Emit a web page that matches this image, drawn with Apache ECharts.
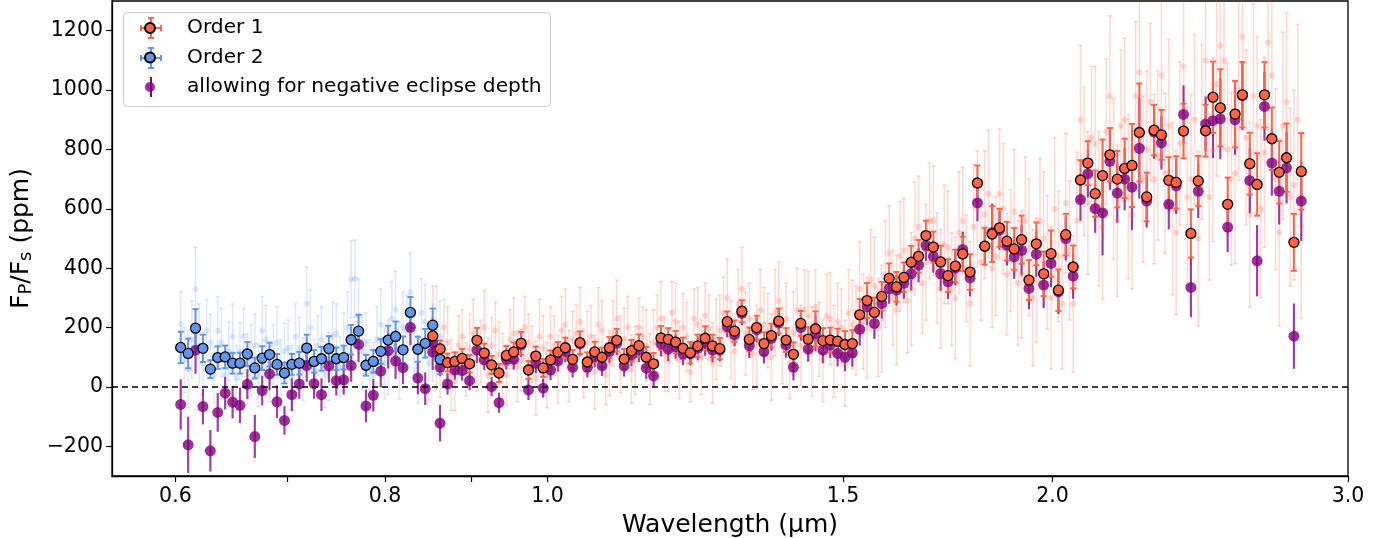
<!DOCTYPE html>
<html>
<head>
<meta charset="utf-8">
<script src="https://cdn.jsdelivr.net/npm/echarts@6/dist/echarts.min.js"></script>
<style>
html, body { margin: 0; padding: 0; background: #fff; }
#main { width: 1392px; height: 538px; }
</style>
</head>
<body>
<div id="main"></div>
<script>
// binned spectrum, order 1 (um, ppm)
var orderOneWave = [
  0.8542,0.8629,0.8717,0.8805,0.8894,0.8985,0.9076,0.9168,0.9261,0.9355,
  0.9450,0.9546,0.9643,0.9741,0.9840,0.9940,1.0041,1.0143,1.0246,1.0350,
  1.0455,1.0561,1.0668,1.0776,1.0886,1.0996,1.1108,1.1221,1.1335,1.1450,
  1.1566,1.1684,1.1802,1.1922,1.2043,1.2166,1.2289,1.2414,1.2540,1.2667,
  1.2796,1.2926,1.3057,1.3190,1.3324,1.3459,1.3596,1.3734,1.3873,1.4014,
  1.4156,1.4300,1.4445,1.4592,1.4740,1.4890,1.5041,1.5194,1.5348,1.5504,
  1.5661,1.5820,1.5981,1.6143,1.6307,1.6473,1.6640,1.6809,1.6980,1.7152,
  1.7325,1.7501,1.7679,1.7858,1.8040,1.8223,1.8408,1.8595,1.8784,1.8974,
  1.9167,1.9362,1.9558,1.9757,1.9958,2.0160,2.0365,2.0572,2.0781,2.0992,
  2.1204,2.1420,2.1637,2.1857,2.2079,2.2303,2.2529,2.2758,2.2989,2.3223,
  2.3459,2.3697,2.3938,2.4181,2.4426,2.4674,2.4925,2.5178,2.5433,2.5692,
  2.5952,2.6216,2.6482,2.6751,2.7023,2.7297,2.7574,2.7854,2.8137
];
var orderOneDepth = [
  172,128,82,86,96,78,157,114,74,47,
  106,118,147,57,104,64,91,117,132,93,
  149,84,118,100,132,157,94,122,139,100,
  78,165,160,151,130,115,138,164,138,129,
  220,188,255,160,200,146,173,222,158,110,
  214,161,196,156,158,154,143,146,243,291,
  251,305,366,337,369,420,440,510,471,421,
  375,407,448,387,687,474,515,536,491,465,
  496,360,482,381,449,326,513,404,697,754,
  651,712,782,700,736,746,857,640,865,849,
  696,689,862,517,694,863,976,940,615,919,
  984,752,682,984,836,723,772,487,726
];
var orderOneErr = [
  35,28,30,30,32,30,42,32,30,30,
  32,32,38,30,32,30,32,34,34,32,
  38,32,34,32,36,38,34,36,38,34,
  36,40,38,38,36,36,38,40,38,36,
  34,36,37,40,40,38,40,42,40,40,
  42,40,59,42,42,42,45,45,53,59,
  50,48,50,50,50,55,55,50,52,55,
  55,55,58,60,59,62,94,64,65,70,
  81,67,72,75,78,70,70,72,67,74,
  78,121,90,95,100,140,165,82,85,84,
  78,88,92,81,84,87,120,130,90,112,
  110,104,105,110,105,105,115,96,129
];
// order 1 refit allowing negative eclipse depth
var orderOneNeg = [
  150,66,10,57,55,21,124,91,1,-53,
  93,93,141,-10,80,-4,57,88,119,66,
  145,66,102,71,119,147,71,108,124,63,
  37,145,127,135,111,111,130,147,124,124,
  203,175,248,139,192,119,164,215,141,66,
  200,127,180,124,141,113,100,115,194,270,
  214,281,332,326,349,382,410,477,440,382,
  354,400,463,367,620,474,520,528,477,438,
  460,332,447,343,416,320,500,373,631,718,
  601,586,760,653,700,673,804,626,858,822,
  615,677,918,335,659,886,897,903,538,900,
  981,695,425,945,754,659,738,171,626
];
var orderOneNegErr = [
  38,30,36,32,34,32,44,34,32,34,
  34,34,40,34,34,32,34,36,36,34,
  40,34,36,34,38,40,36,38,40,36,
  38,42,40,40,38,38,40,42,40,38,
  36,38,40,42,42,40,42,44,42,44,
  44,42,60,44,44,44,47,47,55,62,
  52,50,52,52,52,57,58,52,55,58,
  58,58,60,62,62,65,98,66,68,74,
  84,70,76,78,80,74,74,76,72,80,
  82,143,96,100,105,145,170,88,90,90,
  84,94,98,100,90,92,126,136,84,118,
  116,110,120,116,110,112,120,110,135
];

// binned spectrum, order 2
var orderTwoWave = [
  0.6044,0.6106,0.6168,0.6231,0.6295,0.6359,0.6424,0.6490,0.6556,0.6623,
  0.6691,0.6759,0.6828,0.6898,0.6969,0.7040,0.7112,0.7185,0.7258,0.7332,
  0.7407,0.7483,0.7559,0.7637,0.7715,0.7794,0.7873,0.7954,0.8035,0.8117,
  0.8200,0.8284,0.8369,0.8454,0.8541,0.8628
];
var orderTwoDepth = [
  133,113,198,130,60,99,101,80,80,111,
  64,97,109,76,47,76,80,131,86,95,
  129,95,99,159,188,73,86,120,158,170,
  125,251,127,147,208,93
];
var orderTwoErr = [
  53,50,64,46,30,38,38,35,35,40,
  35,40,40,35,35,35,38,45,38,40,
  42,38,40,50,55,35,38,42,48,50,
  45,52,42,48,56,50
];
var orderTwoNeg = [
  -59,-195,124,-66,-215,-86,-21,-51,-62,9,
  -167,-12,44,-50,-113,-26,10,72,11,-26,
  70,21,24,72,143,-64,-28,53,122,87,
  65,201,30,-6,117,-122
];
var orderTwoNegErr = [
  85,95,80,60,70,65,55,55,60,50,
  73,50,55,55,48,55,50,55,50,55,
  55,50,50,55,60,55,55,55,60,60,
  55,60,55,55,60,62
];

// unbinned points drawn faintly behind
var faintOneMidWave = [
  0.8585,0.8673,0.8761,0.8850,0.8939,0.9030,0.9122,0.9214,0.9308,0.9402,
  0.9498,0.9594,0.9692,0.9790,0.9890,0.9990,1.0092,1.0194,1.0298,1.0402,
  1.0508,1.0614,1.0722,1.0831,1.0941,1.1052,1.1164,1.1278,1.1392,1.1508,
  1.1625,1.1743,1.1862,1.1982,1.2104,1.2228,1.2351,1.2477,1.2603,1.2731,
  1.2861,1.2991,1.3123,1.3257,1.3391,1.3527,1.3665,1.3803,1.3943,1.4085,
  1.4228,1.4372,1.4518,1.4666,1.4815,1.4965,1.5117,1.5271,1.5426,1.5582,
  1.5740,1.5900,1.6062,1.6225,1.6390,1.6556,1.6724,1.6894,1.7066,1.7238,
  1.7413,1.7590,1.7768,1.7948,1.8131,1.8315,1.8501,1.8689,1.8879,1.9070,
  1.9264,1.9460,1.9657,1.9857,2.0059,2.0262,2.0468,2.0676,2.0886,2.1098,
  2.1311,2.1528,2.1747,2.1968,2.2191,2.2416,2.2643,2.2873,2.3105,2.3341,
  2.3578,2.3817,2.4059,2.4303,2.4550,2.4799,2.5051,2.5305,2.5562,2.5822,
  2.6083,2.6349,2.6616,2.6886,2.7160,2.7435,2.7714,2.7995
];
var faintOneCenter = [
  230,60,150,20,170,130,90,200,140,110,
  40,180,90,150,30,130,170,60,210,160,
  220,150,50,190,80,230,160,60,200,140,
  150,230,90,220,200,50,210,240,80,190,
  300,120,330,230,140,210,100,290,230,180,
  140,240,270,90,230,220,80,210,330,200,
  340,230,450,260,460,330,540,420,560,330,
  470,300,560,280,600,580,400,650,380,590,
  380,470,360,500,300,440,620,280,900,620,
  820,540,980,560,900,580,1060,800,700,1050,
  880,520,1080,700,500,1100,800,1150,800,720,
  1180,580,880,790,1050,520,960,680,540
];
var faintOneMid = [
  100,200,40,140,60,180,120,40,190,70,
  160,70,200,110,170,40,140,190,70,180,
  80,170,210,40,180,110,200,90,170,60,
  200,110,250,90,170,230,100,200,160,250,
  160,280,180,110,260,190,250,140,80,260,
  260,120,160,240,120,200,250,190,220,360,
  200,380,300,440,290,500,350,560,400,480,
  330,520,400,540,420,650,440,600,460,350,
  560,300,560,420,600,280,460,560,760,840,
  600,860,700,880,640,980,700,960,780,720,
  600,820,640,900,860,640,1020,1100,700,1000,
  840,980,600,1160,700,880,640,900
];
var faintOneErr = [
  110,95,120,100,90,115,105,125,95,110,
  100,120,105,95,125,110,100,115,120,95,
  115,105,125,100,110,130,105,115,100,120,
  110,125,105,130,115,100,125,110,135,120,
  130,115,140,120,135,125,145,130,120,140,
  135,150,125,140,155,130,145,150,160,170,
  165,180,160,185,175,190,170,195,185,200,
  190,205,180,210,195,215,200,220,205,210,
  215,230,210,225,240,220,235,230,250,240,
  260,245,270,255,275,250,280,265,285,270,
  290,275,300,285,295,280,310,300,290,305,
  295,310,300,320,305,315,300,320,310
];
var faintTwoMidWave = [
  0.6075,0.6137,0.6199,0.6263,0.6327,0.6391,0.6457,0.6523,0.6589,0.6657,
  0.6725,0.6793,0.6863,0.6933,0.7004,0.7076,0.7148,0.7221,0.7295,0.7369,
  0.7445,0.7521,0.7598,0.7676,0.7754,0.7834,0.7913,0.7994,0.8076,0.8158,
  0.8242,0.8326,0.8411,0.8497,0.8584
];
var faintTwoCenter = [
  212,60,330,80,150,189,40,170,120,60,
  140,190,50,150,120,30,130,280,60,160,
  70,180,130,363,240,150,40,210,100,260,
  200,320,60,220,150,170
];
var faintTwoMid = [
  90,160,140,190,40,150,120,30,170,90,
  40,160,110,40,130,170,60,200,140,40,
  170,70,200,365,120,60,160,80,230,90,
  190,130,250,80,210
];
var faintTwoErr = [
  110,130,140,105,95,115,100,110,95,120,
  105,115,100,120,95,110,105,125,100,110,
  115,100,120,130,125,100,110,120,125,130,
  120,130,115,125,130,120
];

var xLabelTicks = [0.6, 0.8, 1.0, 1.5, 2.0, 3.0];
var xAllTicks = [0.6, 0.7, 0.8, 0.9, 1.0, 1.5, 2.0, 3.0];
var yTicks = [-200, 0, 200, 400, 600, 800, 1000, 1200];

var FONT = 'DejaVu Sans';
var TOMATO = '#ff6347';
var BLUE = '#6495ed';
var PURPLE = '#800080';
var NEG_NAME = 'allowing for negative eclipse depth';

function triples(wave, val, err) {
  var out = [];
  for (var i = 0; i < Math.min(wave.length, val.length); i++) {
    out.push([wave[i], val[i], err[i]]);
  }
  return out;
}

function errorBars(color, width, cap, opacity) {
  return function (params, api) {
    var x = api.value(0), y = api.value(1), e = api.value(2);
    var hi = api.coord([x, y + e]);
    var lo = api.coord([x, y - e]);
    var style = { stroke: color, lineWidth: width, opacity: opacity };
    var kids = [{ type: 'line', shape: { x1: hi[0], y1: hi[1], x2: lo[0], y2: lo[1] }, style: style }];
    if (cap) {
      kids.push({ type: 'line', shape: { x1: hi[0] - cap, y1: hi[1], x2: hi[0] + cap, y2: hi[1] }, style: style });
      kids.push({ type: 'line', shape: { x1: lo[0] - cap, y1: lo[1], x2: lo[0] + cap, y2: lo[1] }, style: style });
    }
    return { type: 'group', children: kids };
  };
}

var faintTwo = triples(orderTwoWave, faintTwoCenter, faintTwoErr)
  .concat(triples(faintTwoMidWave, faintTwoMid, faintTwoErr));
var faintOne = triples(orderOneWave, faintOneCenter, faintOneErr)
  .concat(triples(faintOneMidWave, faintOneMid, faintOneErr));
var negData = triples(orderTwoWave, orderTwoNeg, orderTwoNegErr)
  .concat(triples(orderOneWave, orderOneNeg, orderOneNegErr));
var twoData = triples(orderTwoWave, orderTwoDepth, orderTwoErr);
var oneData = triples(orderOneWave, orderOneDepth, orderOneErr);

function barSeries(name, data, color, width, cap, opacity) {
  return {
    name: name, type: 'custom', data: data, clip: true,
    encode: { x: 0, y: 1 }, silent: true,
    renderItem: errorBars(color, width, cap, opacity)
  };
}
function dotSeries(name, data, size, style) {
  return {
    name: name, type: 'scatter', data: data, clip: true,
    encode: { x: 0, y: 1 }, symbolSize: size, itemStyle: style, silent: true
  };
}

var chart = echarts.init(document.getElementById('main'));

var fbars = barSeries('faint2bars', faintTwo, BLUE, 1.5, 2, 0.22);
fbars.markLine = {
  silent: true, symbol: 'none', label: { show: false },
  lineStyle: { color: '#000', type: [6, 4], width: 1.5, opacity: 1 },
  data: [{ yAxis: 0 }]
};

var series = [
  fbars,
  dotSeries('faint2', faintTwo, 6, { color: BLUE, opacity: 0.22 }),
  barSeries('faint1bars', faintOne, TOMATO, 1.5, 2, 0.25),
  dotSeries('faint1', faintOne, 6, { color: TOMATO, opacity: 0.25 }),
  barSeries('negbars', negData, PURPLE, 2.2, 0, 0.75),
  dotSeries(NEG_NAME, negData, 11, { color: PURPLE, opacity: 0.8 }),
  barSeries('o2bars', twoData, BLUE, 2, 3, 1),
  dotSeries('Order 2', twoData, 10, { color: BLUE, borderColor: '#000', borderWidth: 1.3, opacity: 1 }),
  barSeries('o1bars', oneData, TOMATO, 2, 3, 1),
  dotSeries('Order 1', oneData, 10, { color: TOMATO, borderColor: '#000', borderWidth: 1.3, opacity: 1 })
];

// legend frame and error-bar glyphs next to the legend markers
function legendCross(cx, cy, color, horiz) {
  var s = { stroke: color, lineWidth: 2 };
  var g = [
    { type: 'line', z: 11, shape: { x1: cx, y1: cy - 10, x2: cx, y2: cy + 10 }, style: s }
  ];
  if (horiz) {
    g.push({ type: 'line', z: 11, shape: { x1: cx - 10, y1: cy, x2: cx + 10, y2: cy }, style: s });
    g.push({ type: 'line', z: 11, shape: { x1: cx - 3, y1: cy - 10, x2: cx + 3, y2: cy - 10 }, style: s });
    g.push({ type: 'line', z: 11, shape: { x1: cx - 3, y1: cy + 10, x2: cx + 3, y2: cy + 10 }, style: s });
    g.push({ type: 'line', z: 11, shape: { x1: cx - 10, y1: cy - 3, x2: cx - 10, y2: cy + 3 }, style: s });
    g.push({ type: 'line', z: 11, shape: { x1: cx + 10, y1: cy - 3, x2: cx + 10, y2: cy + 3 }, style: s });
  }
  return g;
}

var graphics = [{
  type: 'rect', z: 10,
  shape: { x: 123.5, y: 12.5, width: 427, height: 94, r: 4 },
  style: { fill: 'rgba(255,255,255,0.8)', stroke: '#cccccc', lineWidth: 1 }
}].concat(legendCross(151, 28, TOMATO, true))
  .concat(legendCross(151, 58, BLUE, true))
  .concat(legendCross(151, 87, PURPLE, false));

chart.setOption({
  animation: false,
  backgroundColor: '#fff',
  textStyle: { fontFamily: FONT },
  grid: {
    left: 112, right: 44, top: 1, bottom: 62,
    outerBoundsMode: 'none', containLabel: false,
    show: true, borderColor: '#000', borderWidth: 1.3, backgroundColor: 'transparent'
  },
  legend: {
    orient: 'vertical', left: 144, top: 18, padding: 0,
    itemGap: 9.5, itemWidth: 64, itemHeight: 10, z: 12,
    textStyle: { fontFamily: FONT, fontSize: 20.2, color: '#000', lineHeight: 20 },
    data: [
      { name: 'Order 1', icon: 'circle' },
      { name: 'Order 2', icon: 'circle' },
      { name: NEG_NAME, icon: 'circle' }
    ]
  },
  xAxis: {
    type: 'log', logBase: 10, min: 0.55, max: 3.0,
    name: 'Wavelength (\u00b5m)', nameLocation: 'middle', nameGap: 32,
    nameTextStyle: { fontFamily: FONT, fontSize: 25, color: '#000', lineHeight: 28 },
    axisLine: { show: true, onZero: false, lineStyle: { color: '#000', width: 1.3 } },
    axisTick: { show: true, length: 6, customValues: xAllTicks, lineStyle: { color: '#000', width: 1.2 } },
    axisLabel: {
      show: true, margin: 10, customValues: xLabelTicks, fontFamily: FONT, fontSize: 20.5, color: '#000',
      formatter: function (v) { return Number(v).toFixed(1); }
    },
    splitLine: { show: false },
    minorTick: { show: false }
  },
  yAxis: {
    type: 'value', min: -300, max: 1300,
    name: 'F{s|P}/F{s|s} (ppm)', nameLocation: 'middle', nameGap: 70, nameRotate: 90,
    nameTextStyle: {
      fontFamily: FONT, fontSize: 25, color: '#000', lineHeight: 28, verticalAlign: 'bottom',
      rich: { s: { fontFamily: FONT, fontSize: 18, color: '#000', lineHeight: 12, verticalAlign: 'bottom' } }
    },
    axisLine: { show: true, onZero: false, lineStyle: { color: '#000', width: 1.3 } },
    axisTick: { show: true, length: 6, customValues: yTicks, lineStyle: { color: '#000', width: 1.2 } },
    axisLabel: {
      show: true, margin: 9, customValues: yTicks, fontFamily: FONT, fontSize: 20.5, color: '#000',
      formatter: function (v) { return v < 0 ? '\u2212' + (-v) : String(v); }
    },
    splitLine: { show: false }
  },
  graphic: graphics,
  series: series
});
</script>
</body>
</html>
